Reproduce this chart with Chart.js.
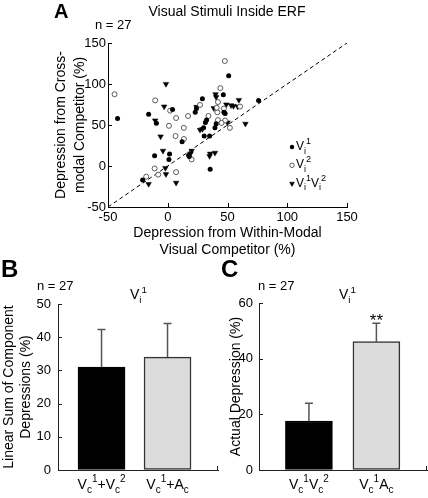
<!DOCTYPE html>
<html lang="en">
<head>
<meta charset="UTF-8">
<title>Visual Stimuli Inside ERF</title>
<script src="https://cdn.jsdelivr.net/npm/chart.js"></script>
<style>
    body { margin: 0; background: #fff; font-family: "Liberation Sans", Arial, sans-serif; color: #000; }
    .fig { position: relative; width: 428px; height: 498px; overflow: hidden; }
    canvas { position: absolute; }
    .lbl { position: absolute; white-space: nowrap; line-height: 1; }
    .panel { font-weight: bold; }
    sub, sup { font-size: 70%; line-height: 0; }
</style>
</head>
<body>
<div class="fig">
    <canvas id="scatterA" width="428" height="260" style="left:0;top:0"></canvas>
    <canvas id="barB" width="220" height="218" style="left:0;top:280px"></canvas>
    <canvas id="barC" width="214" height="218" style="left:214px;top:280px"></canvas>

    <div class="lbl panel" style="left:54px;top:1px;font-size:20px">A</div>
    <div class="lbl" style="left:227px;top:4px;font-size:14px;transform:translateX(-50%)">Visual Stimuli Inside ERF</div>
    <div class="lbl" style="left:95px;top:18px;font-size:13px">n = 27</div>

    <div class="lbl panel" style="left:1px;top:257px;font-size:24px">B</div>
    <div class="lbl" style="left:37px;top:279px;font-size:13px">n = 27</div>
    <div class="lbl" style="left:130px;top:287px;font-size:14px">V<sub>i</sub><sup>1</sup></div>

    <div class="lbl panel" style="left:221px;top:257px;font-size:24px">C</div>
    <div class="lbl" style="left:258px;top:279px;font-size:13px">n = 27</div>
    <div class="lbl" style="left:339px;top:287px;font-size:14px">V<sub>i</sub><sup>1</sup></div>
</div>

<script>
    const FONT = '"Liberation Sans", Arial, Helvetica, sans-serif';

    // --- panel A: within-modal (x) vs cross-modal (y) depression, % ---
    const vi1X = [-42, -21, -16, -11, -9.5, 1, 1.5, 4, 12, 17.5, 18, 23, 24, 29, 30, 30.5, 32.5, 35, 35.5, 39.5, 40.5, 46.5, 47, 48, 51, 76, 31.5];
    const vi1Y = [58, -17, 63, 12.5, 52, 8, 14.5, 69, 29.5, 13, 11.5, 65.5, 70, 82, 46.5, 36.5, 56, 36.5, -4, 46.5, 51.5, 87, 65.5, 64, 110, 80, 53];

    const vi2X = [-44.5, -10.5, -11, -18, -8, 2, 1, 7, 6.5, 7, 13.5, 13.5, 17, 20, 27, 34, 42, 44, 47.8, 41.5, 42, 47, 48, 52, 60.5, 41, 45];
    const vi2Y = [87.5, 80, -3, -13, -10.5, 67.5, 49, 58.5, 36.5, -7.5, 46.5, 33, 61, 8, 74.5, 61, 78, 95, 128, 65.5, 56, 70, 55.5, 46.5, 72.5, 71, 52.5];

    const vi12X = [-16, -10.5, -6, -4, -1.5, -2, -1.5, -3, 7, 20, 19, 24, 27, 29, 35, 35.5, 39.5, 38.5, 40.5, 40, 49, 50, 53, 55, 59.5, 65, 58.5];
    const vi12Y = [-22, 55.5, 36, 18.5, -10, -2.5, 100, 72.5, -20.5, 18.5, 15, 72, 44, 45, 12, 15, 16, 70.5, 84, 87.5, 75, 53, 74, 73, 80.5, 51.5, 72.5];

    const axisTicksA = [-50, 0, 50, 100, 150];
    const diagonal = [-50, 150];
    const legendLabelsA = ['V_i^1', 'V_i^2', 'V_i^1V_i^2'];

    // --- panels B and C: bars with upper error bars ---
    const barPositions = [1, 2];
    const barLabelsB = ['V_c^1+V_c^2', 'V_c^1+A_c'];
    const barValuesB = [31, 34];
    const barErrorsB = [11.3, 10.1];

    const barLabelsC = ['V_c^1V_c^2', 'V_c^1A_c'];
    const barValuesC = [17.6, 46.1];
    const barErrorsC = [6.4, 6.6];
    const starsC = ['', '**'];

    Chart.defaults.font.family = FONT;
    Chart.defaults.color = '#000';

    // text with _x subscripts and ^x superscripts
    function drawRich(ctx, str, x, y, size, align) {
        const parts = [];
        for (let i = 0; i < str.length; i++) {
            const c = str[i];
            if ((c === '_' || c === '^') && i + 1 < str.length) { parts.push({ t: str[i + 1], k: c }); i++; }
            else parts.push({ t: c, k: '' });
        }
        const small = Math.round(size * 0.72);
        const fontOf = p => (p.k ? small : size) + 'px ' + FONT;
        let w = 0;
        parts.forEach(p => { ctx.font = fontOf(p); p.w = ctx.measureText(p.t).width; w += p.w; });
        let cx = align === 'center' ? x - w / 2 : x;
        ctx.save();
        ctx.fillStyle = '#000';
        ctx.textAlign = 'left';
        ctx.textBaseline = 'alphabetic';
        parts.forEach(p => {
            ctx.font = fontOf(p);
            const dy = p.k === '_' ? size * 0.3 : p.k === '^' ? -size * 0.5 : 0;
            ctx.fillText(p.t, cx, y + dy);
            cx += p.w;
        });
        ctx.restore();
    }

    function drawMarker(ctx, ds, x, y, r) {
        ctx.save();
        ctx.fillStyle = ds.pointBackgroundColor;
        ctx.strokeStyle = ds.pointBorderColor;
        ctx.lineWidth = ds.pointBorderWidth;
        ctx.beginPath();
        if (ds.pointStyle === 'triangle') {
            ctx.moveTo(x, y + r);
            ctx.lineTo(x - r * 0.866, y - r * 0.5);
            ctx.lineTo(x + r * 0.866, y - r * 0.5);
            ctx.closePath();
        } else {
            ctx.arc(x, y, r, 0, Math.PI * 2);
        }
        ctx.fill();
        if (ds.pointBorderWidth) ctx.stroke();
        ctx.restore();
    }

    // small tick marks pointing into the plot
    const inwardTicks = {
        id: 'inwardTicks',
        afterDraw(chart, args, opts) {
            const { ctx, chartArea } = chart;
            ctx.save();
            ctx.strokeStyle = opts.color || '#000';
            ctx.lineWidth = 1;
            ctx.beginPath();
            (opts.axes || []).forEach(id => {
                const s = chart.scales[id];
                s.ticks.forEach(t => {
                    const p = Math.round(s.getPixelForValue(t.value)) + 0.5;
                    if (s.isHorizontal()) { ctx.moveTo(p, chartArea.bottom); ctx.lineTo(p, chartArea.bottom - 4); }
                    else { ctx.moveTo(chartArea.left, p); ctx.lineTo(chartArea.left + 4, p); }
                });
            });
            if (opts.endTick) {
                const xr = Math.round(chartArea.right) - 0.5;
                ctx.moveTo(xr, chartArea.bottom); ctx.lineTo(xr, chartArea.bottom - 4);
            }
            ctx.stroke();
            ctx.restore();
        }
    };

    const markerLegend = {
        id: 'markerLegend',
        afterDraw(chart, args, opts) {
            const ctx = chart.ctx;
            opts.labels.forEach((txt, i) => {
                const ds = chart.data.datasets[i];
                const y = opts.y + i * opts.gap;
                drawMarker(ctx, ds, opts.x, y - 3, ds.pointStyle === 'triangle' ? 2.8 : 2.2);
                drawRich(ctx, txt, opts.x + 4, y, 12, 'left');
            });
        }
    };

    const errorBars = {
        id: 'errorBars',
        afterDatasetsDraw(chart, args, opts) {
            const { ctx } = chart;
            const yScale = chart.scales.y;
            const meta = chart.getDatasetMeta(0);
            ctx.save();
            ctx.strokeStyle = '#555';
            ctx.lineWidth = 1.5;
            meta.data.forEach((bar, i) => {
                const v = chart.data.datasets[0].data[i].y;
                const top = yScale.getPixelForValue(v + opts.errors[i]);
                ctx.beginPath();
                ctx.moveTo(bar.x, bar.y);
                ctx.lineTo(bar.x, top);
                ctx.moveTo(bar.x - 4, top);
                ctx.lineTo(bar.x + 4, top);
                ctx.stroke();
                if (opts.marks && opts.marks[i]) {
                    ctx.fillStyle = '#000';
                    ctx.font = '17px ' + FONT;
                    ctx.textAlign = 'center';
                    ctx.textBaseline = 'alphabetic';
                    ctx.fillText(opts.marks[i], bar.x, top + 3);
                }
            });
            ctx.restore();
        }
    };

    const barLabels = {
        id: 'barLabels',
        afterDraw(chart, args, opts) {
            const xScale = chart.scales.x;
            opts.labels.forEach((txt, i) => {
                drawRich(chart.ctx, txt, xScale.getPixelForValue(barPositions[i]), chart.chartArea.bottom + 19, 14, 'center');
            });
        }
    };

    const toPoints = (xs, ys) => xs.map((x, i) => ({ x, y: ys[i] }));

    new Chart(document.getElementById('scatterA'), {
        type: 'scatter',
        data: {
            datasets: [
                { data: toPoints(vi1X, vi1Y), pointStyle: 'circle', pointRadius: 2.5, pointHoverRadius: 2.5,
                  pointBackgroundColor: '#000', pointBorderColor: '#000', pointBorderWidth: 0 },
                { data: toPoints(vi2X, vi2Y), pointStyle: 'circle', pointRadius: 2.5, pointHoverRadius: 2.5,
                  pointBackgroundColor: '#fff', pointBorderColor: '#333', pointBorderWidth: 0.8 },
                { data: toPoints(vi12X, vi12Y), pointStyle: 'triangle', pointRotation: 180, pointRadius: 3.2, pointHoverRadius: 3.2,
                  pointBackgroundColor: '#000', pointBorderColor: '#000', pointBorderWidth: 0.5 },
                { type: 'line', data: toPoints(diagonal, diagonal), showLine: true, pointRadius: 0,
                  borderColor: '#000', borderWidth: 1, borderDash: [4, 3], order: 1 }
            ]
        },
        options: {
            responsive: false,
            animation: false,
            events: [],
            layout: { padding: { top: 43, right: 81, left: 0, bottom: 0 } },
            plugins: {
                legend: { display: false },
                tooltip: { enabled: false },
                inwardTicks: { axes: ['x', 'y'] },
                markerLegend: { labels: legendLabelsA, x: 292, y: 150, gap: 18.3 }
            },
            scales: {
                x: {
                    type: 'linear', min: axisTicksA[0], max: axisTicksA[axisTicksA.length - 1],
                    afterBuildTicks: s => { s.ticks = axisTicksA.map(v => ({ value: v })); },
                    ticks: { padding: 3, font: { size: 13 } },
                    grid: { drawOnChartArea: false, drawTicks: false },
                    border: { color: '#000' },
                    title: { display: true, text: ['Depression from Within-Modal', 'Visual Competitor (%)'],
                             font: { size: 14, lineHeight: 1.18 }, padding: { top: 0, bottom: 2 } },
                    afterFit: s => { s.height = 53; }
                },
                y: {
                    type: 'linear', min: axisTicksA[0], max: axisTicksA[axisTicksA.length - 1],
                    afterBuildTicks: s => { s.ticks = axisTicksA.map(v => ({ value: v })); },
                    ticks: { padding: 2, font: { size: 13 } },
                    grid: { drawOnChartArea: false, drawTicks: false },
                    border: { color: '#000' },
                    title: { display: true, text: ['Depression from Cross-', 'modal Competitor (%)'],
                             font: { size: 14, lineHeight: 1.36 }, padding: { top: 52, bottom: 0 } },
                    afterFit: s => { s.width = 108; }
                }
            }
        },
        plugins: [inwardTicks, markerLegend]
    });

    function barChart(id, values, labels, errors, marks, opt) {
        return new Chart(document.getElementById(id), {
            type: 'bar',
            data: {
                datasets: [{
                    data: barPositions.map((x, i) => ({ x, y: values[i] })),
                    backgroundColor: ['#000', '#dcdcdc'],
                    borderColor: ['#000', '#333'],
                    borderWidth: 1.5,
                    borderSkipped: false,
                    barThickness: 47
                }]
            },
            options: {
                responsive: false,
                animation: false,
                events: [],
                layout: { padding: { top: opt.top, right: opt.right, left: 0, bottom: 0 } },
                plugins: {
                    legend: { display: false },
                    tooltip: { enabled: false },
                    inwardTicks: { axes: ['y'], endTick: true, color: '#222' },
                    errorBars: { errors, marks },
                    barLabels: { labels }
                },
                scales: {
                    x: {
                        type: 'linear', min: opt.xMin, max: opt.xMax, offset: false,
                        ticks: { display: false },
                        grid: { display: false },
                        border: { color: '#222' },
                        afterFit: s => { s.height = 28; }
                    },
                    y: {
                        min: 0, max: opt.yMax,
                        ticks: { stepSize: opt.step, padding: opt.tickPad, font: { size: 13 } },
                        grid: { drawOnChartArea: false, drawTicks: false },
                        border: { color: '#222' },
                        title: { display: true, text: opt.title, font: { size: 14, lineHeight: 1.2 },
                                 padding: { top: opt.titlePad, bottom: 0 } },
                        afterFit: s => { s.width = opt.yWidth; }
                    }
                }
            },
            plugins: [inwardTicks, errorBars, barLabels]
        });
    }

    barChart('barB', barValuesB, barLabelsB, barErrorsB, null, {
        top: 24, right: 2, xMin: 0.34, xMax: 2.765, yMax: 50, step: 10, tickPad: 7,
        title: ['Linear Sum of Component', 'Depressions (%)'], titlePad: 1, yWidth: 58
    });

    barChart('barC', barValuesC, barLabelsC, barErrorsC, starsC, {
        top: 23, right: 1, xMin: 0.26, xMax: 2.75, yMax: 60, step: 20, tickPad: 6,
        title: 'Actual Depression (%)', titlePad: 13.6, yWidth: 45
    });
</script>
</body>
</html>
